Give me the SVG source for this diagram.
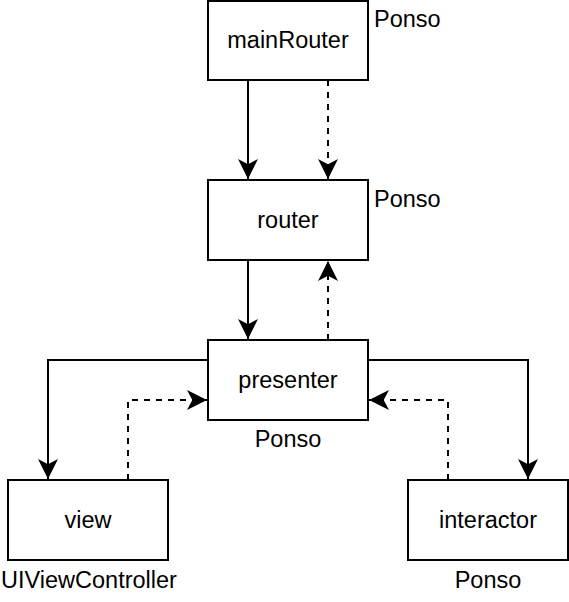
<svg xmlns="http://www.w3.org/2000/svg" width="569" height="602" viewBox="0 0 569 602">
<style>
.box{fill:#fff;stroke:#000;stroke-width:2}
.t{font-family:"Liberation Sans",Arial,sans-serif;font-size:23.5px;fill:#000;text-anchor:middle}
.l{font-family:"Liberation Sans",Arial,sans-serif;font-size:23.5px;fill:#000}
.c{fill:none;stroke:#000;stroke-width:2}
.d{stroke-dasharray:6 6}
</style>
<defs>
<marker id="b" markerUnits="userSpaceOnUse" orient="auto" markerWidth="20" markerHeight="20" refX="17" refY="8.5" viewBox="0 0 17 17" overflow="visible">
<path d="M0,0 L17,8.5 L0,17 L4.5,8.5 Z" fill="#000"/>
</marker>
</defs>
<g id="connectors">
<path class="c" d="M248,80 V179" marker-end="url(#b)"/>
<path class="c d" d="M328,80 V179" marker-end="url(#b)"/>
<path class="c" d="M248,260 V339" marker-end="url(#b)"/>
<path class="c d" d="M328,340 V261" marker-end="url(#b)"/>
<path class="c" d="M208,360 H48 V479" marker-end="url(#b)"/>
<path class="c" d="M368,360 H528 V479" marker-end="url(#b)"/>
<path class="c d" d="M128,480 V400 H207" marker-end="url(#b)"/>
<path class="c d" d="M448,480 V400 H369" marker-end="url(#b)"/>
</g>
<g id="mainRouter"><rect class="box" x="208" y="1" width="160" height="79"/><text class="t" x="288" y="48">mainRouter</text></g>
<g id="mainRouter-label"><text class="l" x="374" y="27">Ponso</text></g>
<g id="router"><rect class="box" x="208" y="180" width="160" height="80"/><text class="t" x="288" y="228">router</text></g>
<g id="router-label"><text class="l" x="374" y="207">Ponso</text></g>
<g id="presenter"><rect class="box" x="208" y="340" width="160" height="80"/><text class="t" x="288" y="388">presenter</text></g>
<g id="presenter-label"><text class="t" x="288" y="447">Ponso</text></g>
<g id="view"><rect class="box" x="8" y="480" width="160" height="80"/><text class="t" x="88" y="528">view</text></g>
<g id="view-label"><text class="t" x="89" y="588">UIViewController</text></g>
<g id="interactor"><rect class="box" x="408" y="480" width="160" height="80"/><text class="t" x="488" y="528">interactor</text></g>
<g id="interactor-label"><text class="t" x="488" y="588">Ponso</text></g>
</svg>
